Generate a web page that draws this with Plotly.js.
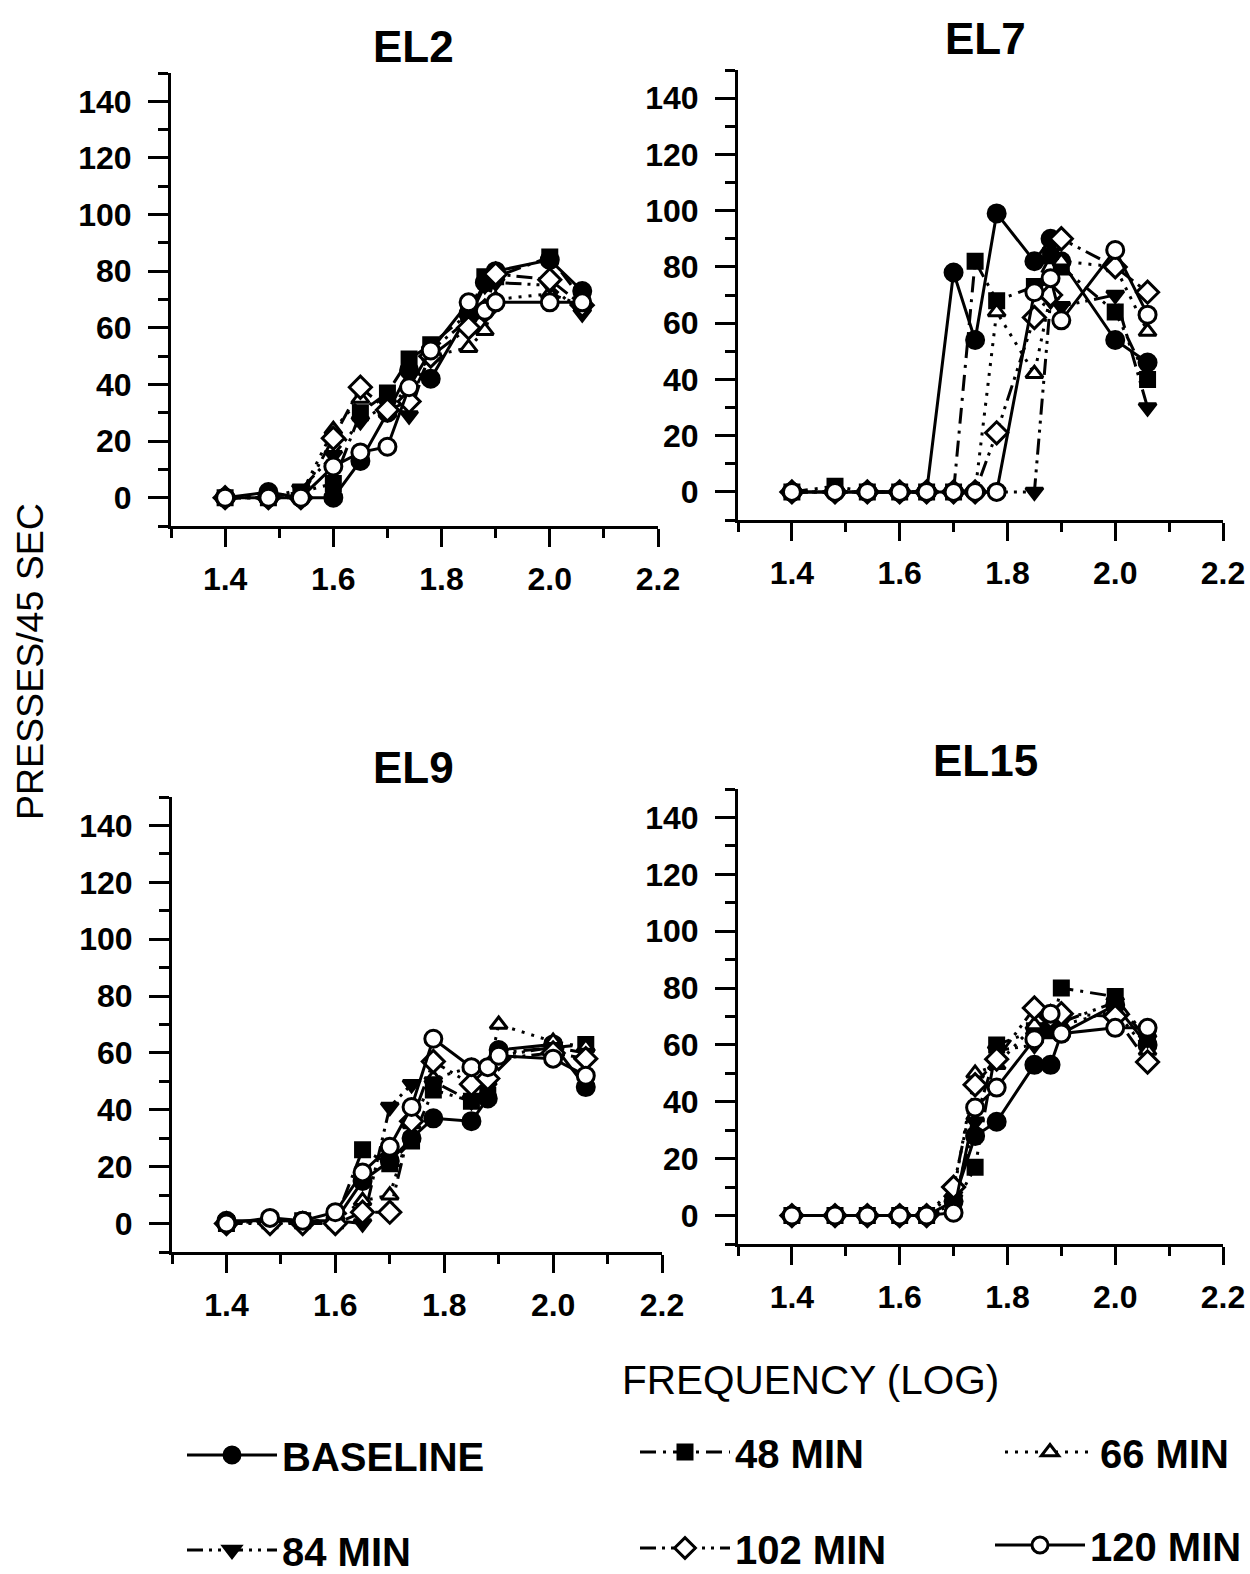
<!DOCTYPE html>
<html><head><meta charset="utf-8">
<script src="https://cdn.plot.ly/plotly-3.0.1.min.js"></script>
<style>html,body{margin:0;padding:0;background:#fff}#chart{width:1250px;height:1574px}</style>
</head><body><div id="chart"></div>
<script>
// ---- data ----
const FREQ = [1.4, 1.48, 1.54, 1.6, 1.65, 1.7, 1.74, 1.78, 1.85, 1.88, 1.9, 2.0, 2.06];
const SERIES_NAMES = ['BASELINE', '48 MIN', '66 MIN', '84 MIN', '102 MIN', '120 MIN'];
const PANEL_TITLES = ['EL2', 'EL7', 'EL9', 'EL15'];
const X_TICK_VALUES = [1.4, 1.6, 1.8, 2.0, 2.2];
const X_TICK_LABELS = ['1.4', '1.6', '1.8', '2.0', '2.2'];
const Y_TICK_VALUES = [0, 20, 40, 60, 80, 100, 120, 140];
const X_TITLE = 'FREQUENCY (LOG)';
const Y_TITLE = 'PRESSES/45 SEC';

const el2_baseline = [0, 2, 0, 0, 13, 30, 45, 42, 65, 76, 80, 84, 73];
const el2_min48    = [0, 0, 2, 5, 30, 37, 49, 54, 65, 78, 78, 85, 70];
const el2_min66    = [0, 0, 1, 24, 35, 30, 40, 50, 53, 59, 70, 72, 68];
const el2_min84    = [0, 0, 3, 15, 27, 33, 29, 52, 63, 75, 76, 75, 65];
const el2_min102   = [0, 0, 0, 21, 39, 31, 34, 50, 60, 66, 79, 77, 68];
const el2_min120   = [0, 0, 0, 11, 16, 18, 39, 52, 69, 66, 69, 69, 69];

const el7_baseline = [0, 0, 0, 0, 0, 78, 54, 99, 82, 90, 82, 54, 46];
const el7_min48    = [0, 2, 0, 0, 0, 0, 82, 68, 73, 84, 80, 64, 40];
const el7_min66    = [0, 0, 0, 0, 0, 0, 0, 64, 42, 70, 82, 80, 57];
const el7_min84    = [0, 0, 0, 0, 0, 0, 0, 0, 0, 68, 66, 70, 30];
const el7_min102   = [0, 0, 0, 0, 0, 0, 0, 21, 62, 70, 90, 80, 71];
const el7_min120   = [0, 0, 0, 0, 0, 0, 0, 0, 71, 76, 61, 86, 63];

const el9_baseline = [1, 1, 1, 1, 15, 22, 30, 37, 36, 44, 61, 63, 48];
const el9_min48    = [0, 1, 1, 1, 26, 21, 29, 47, 43, 45, 60, 62, 63];
const el9_min66    = [0, 1, 1, 1, 8, 10, 35, 51, 55, 52, 70, 64, 62];
const el9_min84    = [0, 1, 0, 1, 0, 41, 49, 50, 43, 48, 59, 62, 60];
const el9_min102   = [0, 0, 0, 0, 4, 4, 36, 57, 49, 51, 58, 60, 58];
const el9_min120   = [0, 2, 1, 4, 18, 27, 41, 65, 55, 55, 59, 58, 52];

const el15_baseline = [0, 0, 0, 0, 0, 5, 28, 33, 53, 53, 64, 74, 60];
const el15_min48    = [0, 0, 0, 0, 0, 3, 17, 60, 65, 65, 80, 77, 62];
const el15_min66    = [0, 0, 0, 0, 0, 8, 50, 53, 67, 68, 67, 72, 58];
const el15_min84    = [0, 0, 0, 0, 0, 4, 33, 58, 60, 66, 68, 75, 62];
const el15_min102   = [0, 0, 0, 0, 0, 10, 46, 55, 73, 70, 71, 70, 54];
const el15_min120   = [0, 0, 0, 0, 0, 1, 38, 45, 62, 71, 64, 66, 66];

const PANEL_DATA = [
  [el2_baseline, el2_min48, el2_min66, el2_min84, el2_min102, el2_min120],
  [el7_baseline, el7_min48, el7_min66, el7_min84, el7_min102, el7_min120],
  [el9_baseline, el9_min48, el9_min66, el9_min84, el9_min102, el9_min120],
  [el15_baseline, el15_min48, el15_min66, el15_min84, el15_min102, el15_min120]
];

// ---- styles ----
const W = 1250, H = 1574;
const FONT = 'Liberation Sans, Arial, Helvetica, sans-serif';
const SYMBOLS = ['circle', 'square', 'triangle-up', 'triangle-down', 'diamond', 'circle'];
const FILLS = ['#000', '#000', '#fff', '#000', '#fff', '#fff'];
const SIZES = [17, 14, 15, 15, 17, 17];
const DASHES = ['solid', '16px,7px,3px,7px', '3px,7px', '16px,6px,3px,6px,3px,6px', '16px,6px,3px,6px,3px,6px', 'solid'];
// legend positions (pixels)
const LEG_POS = [[182, 1455], [635, 1452], [1000, 1452], [182, 1550], [635, 1548], [990, 1545]];

// panel geometry in pixels: [left, right, top(y of 150), bottom(y of x-axis)]
const PANELS = [[171, 658, 73, 526], [738, 1223, 70, 520], [172, 662, 797, 1252], [738, 1223, 789, 1244]];
const TITLE_POS = [[413, 46], [985, 39], [413, 767], [985, 760]];

const traces = [];
const layout = {
  width: W, height: H,
  margin: {l: 0, r: 0, t: 0, b: 0, autoexpand: false},
  paper_bgcolor: '#fff', plot_bgcolor: 'rgba(0,0,0,0)',
  font: {family: FONT, color: '#000'},
  annotations: [],
  hovermode: false
};

PANELS.forEach((p, i) => {
  const n = i === 0 ? '' : String(i + 1);
  const xa = 'xaxis' + n, ya = 'yaxis' + n;
  layout[xa] = {
    domain: [p[0] / W, p[1] / W], anchor: 'y' + n,
    range: [1.3, 2.2], showgrid: false, zeroline: false,
    showline: true, linewidth: 3, linecolor: '#000',
    ticks: 'outside', ticklen: 18, tickwidth: 3, tickcolor: '#000',
    tickmode: 'array', tickvals: X_TICK_VALUES, ticktext: X_TICK_LABELS,
    ticklabelstandoff: 5,
    minor: {ticks: 'outside', ticklen: 9, tickwidth: 3, tickcolor: '#000', tickmode: 'linear', tick0: 1.3, dtick: 0.1},
    tickfont: {family: FONT, size: 32, weight: 'bold', color: '#000'},
    automargin: false,
    fixedrange: true
  };
  layout[ya] = {
    domain: [1 - p[3] / H, 1 - p[2] / H], anchor: 'x' + n,
    range: [-10, 150], showgrid: false, zeroline: false,
    showline: true, linewidth: 3, linecolor: '#000',
    ticks: 'outside', ticklen: 20, tickwidth: 3, tickcolor: '#000',
    tickmode: 'array', tickvals: Y_TICK_VALUES,
    ticklabelstandoff: 10,
    minor: {ticks: 'outside', ticklen: 10, tickwidth: 3, tickcolor: '#000', tickmode: 'linear', tick0: -10, dtick: 20},
    tickfont: {family: FONT, size: 32, weight: 'bold', color: '#000'},
    automargin: false,
    fixedrange: true
  };
  PANEL_DATA[i].forEach((vals, s) => {
    const leg = s === 0 ? 'legend' : 'legend' + (s + 1);
    traces.push({
      type: 'scatter', mode: 'lines+markers',
      x: FREQ, y: vals, xaxis: 'x' + n, yaxis: 'y' + n,
      name: SERIES_NAMES[s],
      legend: leg,
      showlegend: i === 0,
      line: {color: '#000', width: 3, dash: DASHES[s]},
      marker: {symbol: SYMBOLS[s], size: SIZES[s], color: FILLS[s], line: {color: '#000', width: 3}},
      cliponaxis: false
    });
  });
  layout.annotations.push({
    text: PANEL_TITLES[i], xref: 'paper', yref: 'paper', showarrow: false,
    x: TITLE_POS[i][0] / W, y: 1 - TITLE_POS[i][1] / H, xanchor: 'center', yanchor: 'middle',
    font: {family: FONT, size: 44, weight: 'bold', color: '#000'}
  });
});

layout.annotations.push({
  text: Y_TITLE, xref: 'paper', yref: 'paper', showarrow: false, textangle: -90,
  x: 30 / W, y: 1 - 662 / H, xanchor: 'center', yanchor: 'middle',
  font: {family: FONT, size: 37.5, color: '#000'}
});
layout.annotations.push({
  text: X_TITLE, xref: 'paper', yref: 'paper', showarrow: false,
  x: 810 / W, y: 1 - 1380 / H, xanchor: 'center', yanchor: 'middle',
  font: {family: FONT, size: 40.5, color: '#000'}
});

LEG_POS.forEach((lp, s) => {
  const key = s === 0 ? 'legend' : 'legend' + (s + 1);
  layout[key] = {
    x: lp[0] / W, y: 1 - lp[1] / H, xanchor: 'left', yanchor: 'middle',
    orientation: 'h', itemwidth: 90, bgcolor: 'rgba(0,0,0,0)', borderwidth: 0,
    font: {family: FONT, size: 40, weight: 'bold', color: '#000'},
    itemclick: false, itemdoubleclick: false
  };
});

Plotly.newPlot('chart', traces, layout, {staticPlot: true, displayModeBar: false});
</script></body></html>
